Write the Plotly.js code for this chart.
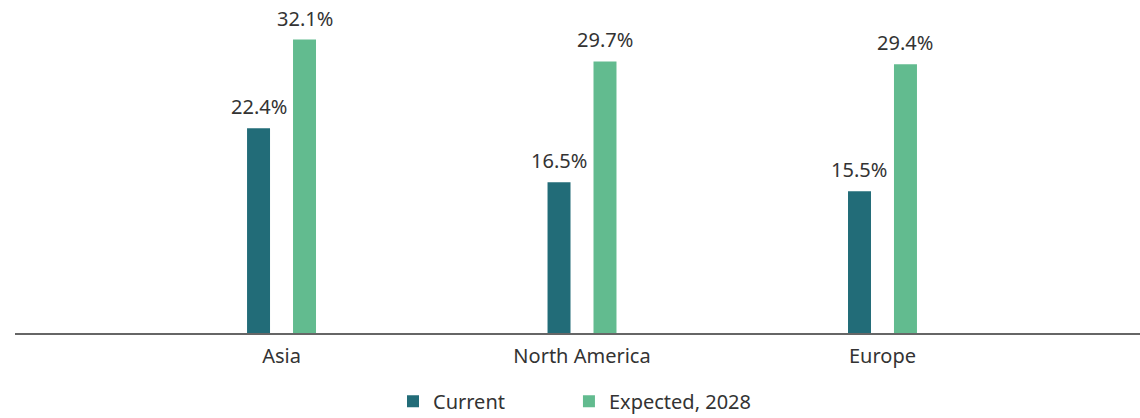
<!DOCTYPE html>
<html>
<head>
<meta charset="utf-8">
<script src="https://cdn.plot.ly/plotly-3.0.1.min.js"></script>
<style>
  html, body { margin: 0; padding: 0; background: #fff; }
  #chart { width: 1140px; height: 418px; }
</style>
</head>
<body>
<div id="chart"></div>
<script>
// regions and shares (%)
var regions = ["Asia", "North America", "Europe"];
var currentShare = [22.4, 16.5, 15.5];
var expectedShare = [32.1, 29.7, 29.4];

function pct(v) { return v.toFixed(1) + "%"; }

var currentTrace = {
  type: "bar",
  name: "Current",
  x: regions,
  y: currentShare,
  marker: { color: "#226c78" },
  hoverinfo: "none",
  legend: "legend"
};
var expectedTrace = {
  type: "bar",
  name: "Expected, 2028",
  x: regions,
  y: expectedShare,
  marker: { color: "#62bb8f" },
  hoverinfo: "none",
  legend: "legend2"
};

// value labels above bars
var labels = [];
regions.forEach(function (r, i) {
  labels.push({ x: r, y: currentShare[i], text: pct(currentShare[i]), xshift: -23 });
  labels.push({ x: r, y: expectedShare[i], text: pct(expectedShare[i]), xshift: 23 });
});
labels = labels.map(function (a) {
  return {
    xref: "x", yref: "y", x: a.x, y: a.y, text: a.text,
    xshift: a.xshift, yshift: 6,
    xanchor: "center", yanchor: "bottom",
    showarrow: false,
    font: { size: 20, color: "#333" }
  };
});

// one legend per series so the gap between them matches
function legendAt(x) {
  return {
    orientation: "h",
    x: x, xanchor: "left",
    xref: "paper",
    yref: "container",
    y: 0.04, yanchor: "middle",
    font: { size: 20, color: "#333" }
  };
}

var layout = {
  width: 1140,
  height: 418,
  margin: { l: 15, r: 0, t: 13, b: 85 },
  paper_bgcolor: "#fff",
  plot_bgcolor: "#fff",
  font: { family: "Noto Sans, Open Sans, sans-serif", size: 20, color: "#333" },
  barmode: "group",
  bargap: 0.694,
  bargroupgap: 0.5,
  showlegend: true,
  legend: legendAt(0.336),
  legend2: legendAt(0.4924),
  xaxis: {
    type: "category",
    range: [-0.887, 2.857],
    showline: true,
    linecolor: "#666",
    linewidth: 2,
    showgrid: false,
    zeroline: false,
    ticks: "",
    tickfont: { size: 20, color: "#333" },
    ticklabelstandoff: 4
  },
  yaxis: {
    range: [0, 35],
    visible: false,
    showgrid: false,
    zeroline: false
  },
  annotations: labels
};

Plotly.newPlot("chart", [currentTrace, expectedTrace], layout, { displayModeBar: false, staticPlot: true });
</script>
</body>
</html>
